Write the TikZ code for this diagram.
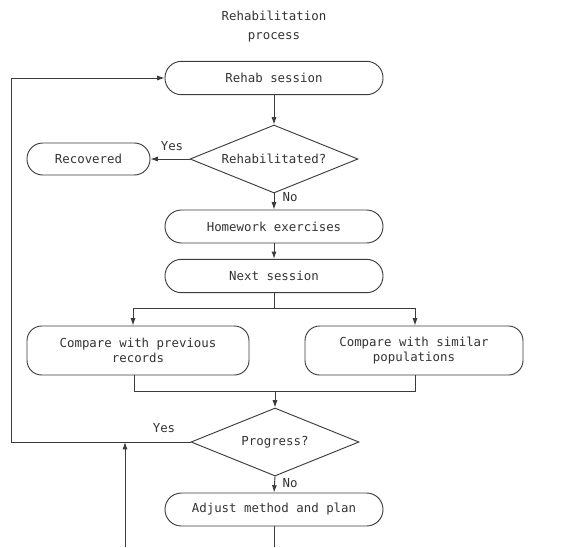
\documentclass[tikz,border=0pt]{standalone}
\usepackage{fontspec}
\setmonofont{DejaVu Sans Mono}
\usetikzlibrary{shapes.geometric,arrows.meta}
\definecolor{ink}{HTML}{333333}
\definecolor{wire}{HTML}{3C3C3C}
\begin{document}
\begin{tikzpicture}[x=0.75pt,y=-0.75pt,
  every node/.style={font=\ttfamily\fontsize{9.3}{11.25}\selectfont, text=ink},
  stepbox/.style={draw=wire, line width=0.7pt, rounded corners=12.3pt, align=center,
    minimum width=163.5pt, minimum height=25pt, inner sep=2pt},
  widebox/.style={stepbox, rounded corners=11pt, minimum height=36.75pt},
  choice/.style={draw=wire, line width=0.7pt, diamond, inner sep=0pt, aspect=2.5,
    minimum width=126pt, minimum height=51pt},
  link/.style={draw=wire, line width=0.7pt},
  arr/.style={link, -{Latex[length=5.5pt,width=3.8pt]}},
  lbl/.style={inner sep=0pt}]
  \useasboundingbox (0,0) rectangle (581,547);

  % title
  \node[align=center, font=\ttfamily\fontsize{9.3}{14.25}\selectfont] (title) at (274,27) {Rehabilitation\\process};

  % main column
  \node[stepbox] (rehab) at (274,78) {Rehab session};
  \node[choice] (rehabq) at (274,159) {Rehabilitated?};
  \node[stepbox, minimum width=92.25pt, minimum height=24pt, rounded corners=11.8pt] (recovered) at (88.5,159) {Recovered};
  \node[stepbox, minimum height=24.75pt] (homework) at (274,226.5) {Homework exercises};
  \node[stepbox] (next) at (274,276) {Next session};
  \node[widebox, minimum width=166.5pt] (cmpL) at (138,350.5) {Compare with previous\\records};
  \node[widebox] (cmpR) at (414,350.5) {Compare with similar\\populations};
  \node[choice] (progress) at (275,442) {Progress?};
  \node[stepbox, minimum height=24.75pt] (adjust) at (274,509.5) {Adjust method and plan};

  % helper points for the routed connectors
  \coordinate (split) at (274,308);
  \coordinate (sL) at (133,308);
  \coordinate (sR) at (415,308);
  \coordinate (mL) at (134,391);
  \coordinate (mR) at (415,391);
  \coordinate (merge) at (275,391);
  \coordinate (loopB) at (11,442);
  \coordinate (loopT) at (11,78);
  \coordinate (ext) at (125,547);
  \coordinate (extEnd) at (125,442);
  \coordinate (out) at (274,547);

  % connectors
  \draw[arr] (rehab) -- (rehabq);
  \draw[arr] (rehabq.west) -- (recovered.east);
  \node[lbl] (yes1) at (172,146) {Yes};
  \draw[arr] (rehabq.south) -- (homework.north);
  \node[lbl] (no1) at (290,197) {No};
  \draw[arr] (homework) -- (next);
  \draw[link] (next.south) -- (split);
  \draw[link] (sL) -- (sR);
  \draw[arr] (sL) -- (sL |- cmpL.north);
  \draw[arr] (sR) -- (sR |- cmpR.north);
  \draw[link] (mL |- cmpL.south) -- (mL) -- (mR) -- (mR |- cmpR.south);
  \draw[arr] (merge) -- (progress.north);
  \draw[arr] (progress.west) -- (loopB) -- (loopT) -- (rehab.west);
  \node[lbl] (yes2) at (164,428) {Yes};
  \draw[arr] (ext) -- (extEnd);
  \draw[arr] (progress.south) -- (adjust.north);
  \node[lbl] (no2) at (290,483) {No};
  \draw[link] (adjust.south) -- (out);
\end{tikzpicture}
\end{document}
